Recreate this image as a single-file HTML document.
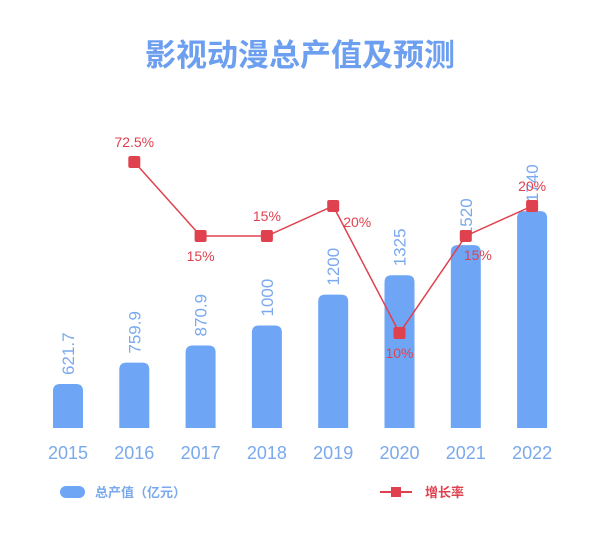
<!DOCTYPE html>
<html><head><meta charset="utf-8"><style>
body{margin:0;background:#fff;}
svg text{font-family:"Liberation Sans","Noto Sans CJK SC",sans-serif;}
</style></head><body>
<svg width="600" height="540" viewBox="0 0 600 540">
<text x="300" y="66" text-anchor="middle" font-size="31" font-weight="bold" fill="#6d9ff0" style="font-family:'Noto Sans CJK SC',sans-serif">影视动漫总产值及预测</text>
<g id="bars"></g>
<g id="line"></g>
<g id="xaxis"></g>
<g>
<rect x="60" y="486" width="25" height="12" rx="6" fill="#6fa5f5"/>
<text x="95" y="497" font-size="13" font-weight="bold" fill="#7aa9ee" style="font-family:'Noto Sans CJK SC',sans-serif">总产值（亿元）</text>
<line x1="380" y1="492" x2="412" y2="492" stroke="#e0414f" stroke-width="2"/>
<rect x="391" y="487" width="10" height="10" fill="#e0414f"/>
<text x="425" y="497" font-size="13" font-weight="bold" fill="#e0414f" style="font-family:'Noto Sans CJK SC',sans-serif">增长率</text>
</g>
</svg>
<script>
const categories=["2015","2016","2017","2018","2019","2020","2021","2022"];
const values=[621.7,759.9,870.9,1000,1200,1325,1520,1740];
const growth=[null,72.5,15,15,20,10,15,20];
const growthLabels=["","72.5%","15%","15%","20%","10%","15%","20%"];
const labelPos=["","above","below","above","right","below","belowright","above"];
const NS="http://www.w3.org/2000/svg";
function mk(t,a,p){const e=document.createElementNS(NS,t);for(const k in a)e.setAttribute(k,a[k]);p.appendChild(e);return e;}
const x0=68,step=66.3,baseY=428;
function xS(i){return x0+i*step;}
function yV(v){return Math.min(baseY-20,480-0.1545*v);}
const gD=[10,15,20,72.5],gR=[333,236,206,162];
function yG(v){for(let i=0;i<gD.length-1;i++){if(v<=gD[i+1]){const t=(v-gD[i])/(gD[i+1]-gD[i]);return gR[i]+t*(gR[i+1]-gR[i]);}}return gR[gR.length-1];}
const bars=document.getElementById('bars'),line=document.getElementById('line'),xa=document.getElementById('xaxis');
categories.forEach((c,i)=>{
 const x=xS(i),top=yV(values[i]);
 const b=mk('path',{d:`M${x-15},${baseY} L${x-15},${top+7} Q${x-15},${top} ${x-8},${top} L${x+8},${top} Q${x+15},${top} ${x+15},${top+7} L${x+15},${baseY} Z`,fill:'#6fa5f5'},bars);
 
 
 const t=mk('text',{x:x+6,y:top-9,transform:`rotate(-90 ${x+6} ${top-9})`,'font-size':'17',fill:'#7aa9ee'},bars);
 t.textContent=values[i];
 
 
 const xl=mk('text',{x:x,y:459,'text-anchor':'middle','font-size':'18',fill:'#7aa9ee'},xa);
 xl.textContent=c;
 
 
});
let pts=[];
growth.forEach((g,i)=>{if(g!==null)pts.push([xS(i),yG(g),i]);});
const pl=mk('polyline',{points:pts.map(p=>p[0]+','+p[1]).join(' '),fill:'none',stroke:'#e0414f','stroke-width':'1.5'},line);


pts.forEach(([x,y,i])=>{
 const r=mk('rect',{x:x-6,y:y-6,width:12,height:12,rx:2,fill:'#e0414f'},line);
 
 
 let lx=x,ly=y-15,anc='middle';
 if(labelPos[i]==='below')ly=y+25;
 if(labelPos[i]==='right'){lx=x+10;ly=y+21;anc='start';}
 if(labelPos[i]==='belowright'){lx=x-2;ly=y+24;anc='start';}
 const t=mk('text',{x:lx,y:ly,'text-anchor':anc,'font-size':'14',fill:'#e0414f'},line);
 t.textContent=growthLabels[i];
 
 
});
</script>
</body></html>
